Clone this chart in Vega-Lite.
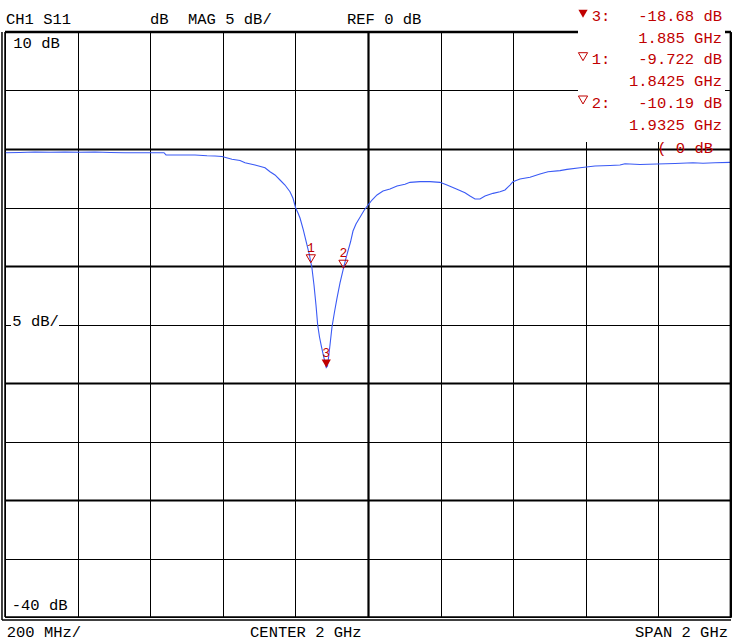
{
  "$schema": "https://vega.github.io/schema/vega-lite/v6.json",
  "width": 726,
  "height": 585,
  "autosize": {"type": "none"},
  "padding": {"left": 5, "top": 32, "right": 4, "bottom": 27},
  "background": "white",
  "config": {
    "view": {"stroke": null},
    "axis": {"labels": false, "ticks": false, "domain": false},
    "text": {"font": "Liberation Mono", "fontSize": 15.5, "align": "left", "baseline": "alphabetic", "color": "#000000"}
  },
  "datasets": {
    "blank": [{}],
    "markers": [
      {"marker": "3", "f": 1.885, "db": -18.68, "active": true},
      {"marker": "1", "f": 1.8425, "db": -9.722, "active": false},
      {"marker": "2", "f": 1.9325, "db": -10.19, "active": false}
    ],
    "trace": [
      {"f": 1.0, "db": -0.32}, {"f": 1.0413, "db": -0.3}, {"f": 1.0826, "db": -0.26}, {"f": 1.124, "db": -0.28},
      {"f": 1.1653, "db": -0.26}, {"f": 1.2066, "db": -0.28}, {"f": 1.2479, "db": -0.26}, {"f": 1.2893, "db": -0.3},
      {"f": 1.3306, "db": -0.32}, {"f": 1.3719, "db": -0.32}, {"f": 1.3994, "db": -0.32}, {"f": 1.438, "db": -0.32},
      {"f": 1.4435, "db": -0.5}, {"f": 1.4821, "db": -0.51}, {"f": 1.5234, "db": -0.51}, {"f": 1.5565, "db": -0.58},
      {"f": 1.5785, "db": -0.6}, {"f": 1.5978, "db": -0.64}, {"f": 1.6253, "db": -0.88}, {"f": 1.6474, "db": -0.98},
      {"f": 1.6612, "db": -1.17}, {"f": 1.6887, "db": -1.37}, {"f": 1.7163, "db": -1.6}, {"f": 1.73, "db": -1.94},
      {"f": 1.7438, "db": -2.22}, {"f": 1.7576, "db": -2.65}, {"f": 1.7713, "db": -3.08}, {"f": 1.7851, "db": -3.65},
      {"f": 1.7934, "db": -4.21}, {"f": 1.8008, "db": -5.04}, {"f": 1.8072, "db": -5.47}, {"f": 1.8127, "db": -5.9},
      {"f": 1.8218, "db": -6.92}, {"f": 1.832, "db": -8.21}, {"f": 1.8388, "db": -9.06}, {"f": 1.8425, "db": -9.72},
      {"f": 1.8449, "db": -10.0}, {"f": 1.8512, "db": -11.62}, {"f": 1.8567, "db": -13.33}, {"f": 1.8614, "db": -15.04},
      {"f": 1.8664, "db": -16.07}, {"f": 1.8719, "db": -16.92}, {"f": 1.8774, "db": -17.69}, {"f": 1.8815, "db": -18.21},
      {"f": 1.885, "db": -18.68}, {"f": 1.8884, "db": -18.55}, {"f": 1.8912, "db": -17.86}, {"f": 1.8953, "db": -16.75},
      {"f": 1.9008, "db": -15.21}, {"f": 1.9077, "db": -13.93}, {"f": 1.9146, "db": -12.74}, {"f": 1.9229, "db": -11.45},
      {"f": 1.9325, "db": -10.19}, {"f": 1.9394, "db": -9.32}, {"f": 1.9457, "db": -8.63}, {"f": 1.9518, "db": -7.95},
      {"f": 1.9587, "db": -7.01}, {"f": 1.9669, "db": -6.41}, {"f": 1.978, "db": -5.84}, {"f": 1.989, "db": -5.26},
      {"f": 2.0, "db": -4.79}, {"f": 2.011, "db": -4.36}, {"f": 2.0248, "db": -3.93}, {"f": 2.0413, "db": -3.59},
      {"f": 2.0606, "db": -3.42}, {"f": 2.0799, "db": -3.16}, {"f": 2.1019, "db": -3.02}, {"f": 2.1157, "db": -2.85},
      {"f": 2.1433, "db": -2.79}, {"f": 2.1708, "db": -2.79}, {"f": 2.1983, "db": -2.85}, {"f": 2.2176, "db": -3.08},
      {"f": 2.2452, "db": -3.44}, {"f": 2.2672, "db": -3.74}, {"f": 2.281, "db": -4.02}, {"f": 2.2948, "db": -4.27},
      {"f": 2.3085, "db": -4.27}, {"f": 2.3223, "db": -4.02}, {"f": 2.3444, "db": -3.79}, {"f": 2.3636, "db": -3.65},
      {"f": 2.3774, "db": -3.5}, {"f": 2.3912, "db": -3.08}, {"f": 2.3994, "db": -2.79}, {"f": 2.4187, "db": -2.56},
      {"f": 2.4463, "db": -2.42}, {"f": 2.4738, "db": -2.14}, {"f": 2.4959, "db": -1.94}, {"f": 2.5289, "db": -1.85},
      {"f": 2.5482, "db": -1.74}, {"f": 2.584, "db": -1.6}, {"f": 2.6253, "db": -1.45}, {"f": 2.6667, "db": -1.41},
      {"f": 2.6942, "db": -1.37}, {"f": 2.708, "db": -1.26}, {"f": 2.7493, "db": -1.32}, {"f": 2.7961, "db": -1.28},
      {"f": 2.8457, "db": -1.24}, {"f": 2.8953, "db": -1.17}, {"f": 2.9229, "db": -1.22}, {"f": 2.9559, "db": -1.18},
      {"f": 2.9972, "db": -1.14}, {"f": 3.0, "db": -1.14}
    ]
  },
  "layer": [
    {
      "data": {"name": "trace"},
      "mark": {"type": "line", "color": "#3a5af5", "strokeWidth": 1.1, "interpolate": "linear"},
      "encoding": {
        "x": {"field": "f", "type": "quantitative", "scale": {"domain": [1, 3], "nice": false, "zero": false},
          "axis": {"title": null, "grid": true, "values": [1, 1.2, 1.4, 1.6, 1.8, 2, 2.2, 2.4, 2.6, 2.8, 3], "gridColor": "#000000", "gridOpacity": 1,
            "gridWidth": {"condition": {"test": "datum.value == 2", "value": 2.2}, "value": 1}}},
        "y": {"field": "db", "type": "quantitative", "scale": {"domain": [-40, 10], "nice": false, "zero": false},
          "axis": {"title": null, "grid": true, "values": [-40, -35, -30, -25, -20, -15, -10, -5, 0, 5, 10], "gridColor": "#000000", "gridOpacity": 1,
            "gridWidth": {"condition": {"test": "datum.value == 0 || datum.value == -10 || datum.value == -20 || datum.value == -30", "value": 2.2}, "value": 1}}}
      }
    },
    {"data": {"name": "blank"}, "mark": {"type": "rule", "color": "#000000", "strokeWidth": 2.5},
      "encoding": {"x": {"datum": 1, "type": "quantitative"}, "x2": {"datum": 3}, "y": {"datum": 10, "type": "quantitative"}}},
    {"data": {"name": "blank"}, "mark": {"type": "rule", "color": "#000000", "strokeWidth": 1.5},
      "encoding": {"x": {"datum": 1, "type": "quantitative"}, "y": {"datum": -40, "type": "quantitative"}, "y2": {"datum": 10}}},
    {"data": {"name": "blank"}, "mark": {"type": "rule", "color": "#000000", "strokeWidth": 1.5},
      "encoding": {"x": {"datum": 0.9917, "type": "quantitative"}, "y": {"datum": -40.26, "type": "quantitative"}, "y2": {"datum": 10}}},
    {"data": {"name": "blank"}, "mark": {"type": "rule", "color": "#000000", "strokeWidth": 1.5},
      "encoding": {"x": {"datum": 1, "type": "quantitative"}, "x2": {"datum": 3}, "y": {"datum": -40, "type": "quantitative"}}},
    {"data": {"name": "blank"}, "mark": {"type": "rule", "color": "#000000", "strokeWidth": 1.5},
      "encoding": {"x": {"datum": 0.9917, "type": "quantitative"}, "x2": {"datum": 3}, "y": {"datum": -40.26, "type": "quantitative"}}},
    {"data": {"name": "blank"}, "mark": {"type": "rect", "color": "#ffffff"},
      "encoding": {"x": {"datum": 2.5785, "type": "quantitative"}, "x2": {"datum": 2.9835}, "y": {"datum": 12.8, "type": "quantitative"}, "y2": {"datum": 0.6}}},
    {"data": {"name": "blank"}, "mark": {"type": "rect", "color": "#ffffff"},
      "encoding": {"x": {"datum": 1.0165, "type": "quantitative"}, "x2": {"datum": 1.1488}, "y": {"datum": -14.3, "type": "quantitative"}, "y2": {"datum": -15.5}}},
    {"data": {"name": "blank"}, "mark": {"type": "rule", "color": "#000000", "strokeWidth": 2},
      "encoding": {"x": {"datum": 2.999, "type": "quantitative"}, "y": {"datum": -40, "type": "quantitative"}, "y2": {"datum": 10}}},
    {"data": {"name": "blank"}, "mark": {"type": "rule", "color": "#000000", "strokeWidth": 2},
      "encoding": {"x": {"datum": 2.9835, "type": "quantitative"}, "x2": {"datum": 3}, "y": {"datum": 10, "type": "quantitative"}}},
    {"data": {"name": "markers"}, "transform": [{"filter": "datum.active"}],
      "mark": {"type": "point", "shape": "triangle-down", "size": 85, "filled": true, "color": "#c00000", "opacity": 1, "yOffset": -4},
      "encoding": {"x": {"field": "f", "type": "quantitative"}, "y": {"field": "db", "type": "quantitative"}}},
    {"data": {"name": "markers"}, "transform": [{"filter": "!datum.active"}],
      "mark": {"type": "point", "shape": "triangle-down", "size": 85, "filled": false, "color": "#c00000", "opacity": 1, "strokeWidth": 1, "yOffset": -4},
      "encoding": {"x": {"field": "f", "type": "quantitative"}, "y": {"field": "db", "type": "quantitative"}}},
    {"data": {"name": "markers"},
      "mark": {"type": "text", "fontSize": 13, "align": "center", "color": "#c00000", "dy": -11},
      "encoding": {"x": {"field": "f", "type": "quantitative"}, "y": {"field": "db", "type": "quantitative"}, "text": {"field": "marker"}}},
    {"data": {"name": "blank"}, "mark": {"type": "point", "shape": "triangle-down", "size": 85, "filled": true, "color": "#c00000", "opacity": 1},
      "encoding": {"x": {"datum": 2.5923, "type": "quantitative"}, "y": {"datum": 11.56, "type": "quantitative"}}},
    {"data": {"name": "blank"}, "mark": {"type": "point", "shape": "triangle-down", "size": 85, "filled": false, "color": "#c00000", "opacity": 1, "strokeWidth": 1},
      "encoding": {"x": {"datum": 2.5923, "type": "quantitative"}, "y": {"datum": 7.89, "type": "quantitative"}}},
    {"data": {"name": "blank"}, "mark": {"type": "point", "shape": "triangle-down", "size": 85, "filled": false, "color": "#c00000", "opacity": 1, "strokeWidth": 1},
      "encoding": {"x": {"datum": 2.5923, "type": "quantitative"}, "y": {"datum": 4.19, "type": "quantitative"}}},
    {"data": {"name": "blank"}, "mark": {"type": "text"},
      "encoding": {"x": {"datum": 1.0028, "type": "quantitative"}, "y": {"datum": 10.66, "type": "quantitative"}, "text": {"value": "CH1 S11"}}},
    {"data": {"name": "blank"}, "mark": {"type": "text"},
      "encoding": {"x": {"datum": 1.3994, "type": "quantitative"}, "y": {"datum": 10.66, "type": "quantitative"}, "text": {"value": "dB"}}},
    {"data": {"name": "blank"}, "mark": {"type": "text"},
      "encoding": {"x": {"datum": 1.5041, "type": "quantitative"}, "y": {"datum": 10.66, "type": "quantitative"}, "text": {"value": "MAG 5 dB/"}}},
    {"data": {"name": "blank"}, "mark": {"type": "text"},
      "encoding": {"x": {"datum": 1.9421, "type": "quantitative"}, "y": {"datum": 10.66, "type": "quantitative"}, "text": {"value": "REF 0 dB"}}},
    {"data": {"name": "blank"}, "mark": {"type": "text"},
      "encoding": {"x": {"datum": 1.0229, "type": "quantitative"}, "y": {"datum": 8.66, "type": "quantitative"}, "text": {"value": "10 dB"}}},
    {"data": {"name": "blank"}, "mark": {"type": "text"},
      "encoding": {"x": {"datum": 1.0201, "type": "quantitative"}, "y": {"datum": -15.1, "type": "quantitative"}, "text": {"value": "5 dB/"}}},
    {"data": {"name": "blank"}, "mark": {"type": "text"},
      "encoding": {"x": {"datum": 1.0185, "type": "quantitative"}, "y": {"datum": -39.4, "type": "quantitative"}, "text": {"value": "-40 dB"}}},
    {"data": {"name": "blank"}, "mark": {"type": "text"},
      "encoding": {"x": {"datum": 1.0046, "type": "quantitative"}, "y": {"datum": -41.7, "type": "quantitative"}, "text": {"value": "200 MHz/"}}},
    {"data": {"name": "blank"}, "mark": {"type": "text"},
      "encoding": {"x": {"datum": 1.675, "type": "quantitative"}, "y": {"datum": -41.7, "type": "quantitative"}, "text": {"value": "CENTER 2 GHz"}}},
    {"data": {"name": "blank"}, "mark": {"type": "text", "align": "right"},
      "encoding": {"x": {"datum": 2.9917, "type": "quantitative"}, "y": {"datum": -41.7, "type": "quantitative"}, "text": {"value": "SPAN 2 GHz"}}},
    {"data": {"name": "blank"}, "mark": {"type": "text", "color": "#c00000"},
      "encoding": {"x": {"datum": 2.6163, "type": "quantitative"}, "y": {"datum": 10.94, "type": "quantitative"}, "text": {"value": "3:"}}},
    {"data": {"name": "blank"}, "mark": {"type": "text", "color": "#c00000"},
      "encoding": {"x": {"datum": 2.6163, "type": "quantitative"}, "y": {"datum": 7.239, "type": "quantitative"}, "text": {"value": "1:"}}},
    {"data": {"name": "blank"}, "mark": {"type": "text", "color": "#c00000"},
      "encoding": {"x": {"datum": 2.6163, "type": "quantitative"}, "y": {"datum": 3.479, "type": "quantitative"}, "text": {"value": "2:"}}},
    {"data": {"name": "blank"}, "mark": {"type": "text", "color": "#c00000", "align": "right"},
      "encoding": {"x": {"datum": 2.9752, "type": "quantitative"}, "y": {"datum": 10.94, "type": "quantitative"}, "text": {"value": "-18.68 dB"}}},
    {"data": {"name": "blank"}, "mark": {"type": "text", "color": "#c00000", "align": "right"},
      "encoding": {"x": {"datum": 2.9752, "type": "quantitative"}, "y": {"datum": 9.085, "type": "quantitative"}, "text": {"value": "1.885 GHz"}}},
    {"data": {"name": "blank"}, "mark": {"type": "text", "color": "#c00000", "align": "right"},
      "encoding": {"x": {"datum": 2.9752, "type": "quantitative"}, "y": {"datum": 7.239, "type": "quantitative"}, "text": {"value": "-9.722 dB"}}},
    {"data": {"name": "blank"}, "mark": {"type": "text", "color": "#c00000", "align": "right"},
      "encoding": {"x": {"datum": 2.9752, "type": "quantitative"}, "y": {"datum": 5.385, "type": "quantitative"}, "text": {"value": "1.8425 GHz"}}},
    {"data": {"name": "blank"}, "mark": {"type": "text", "color": "#c00000", "align": "right"},
      "encoding": {"x": {"datum": 2.9752, "type": "quantitative"}, "y": {"datum": 3.479, "type": "quantitative"}, "text": {"value": "-10.19 dB"}}},
    {"data": {"name": "blank"}, "mark": {"type": "text", "color": "#c00000", "align": "right"},
      "encoding": {"x": {"datum": 2.9752, "type": "quantitative"}, "y": {"datum": 1.624, "type": "quantitative"}, "text": {"value": "1.9325 GHz"}}},
    {"data": {"name": "blank"}, "mark": {"type": "text", "color": "#c00000", "align": "right"},
      "encoding": {"x": {"datum": 2.9504, "type": "quantitative"}, "y": {"datum": -0.316, "type": "quantitative"}, "text": {"value": "( 0 dB"}}}
  ]
}
